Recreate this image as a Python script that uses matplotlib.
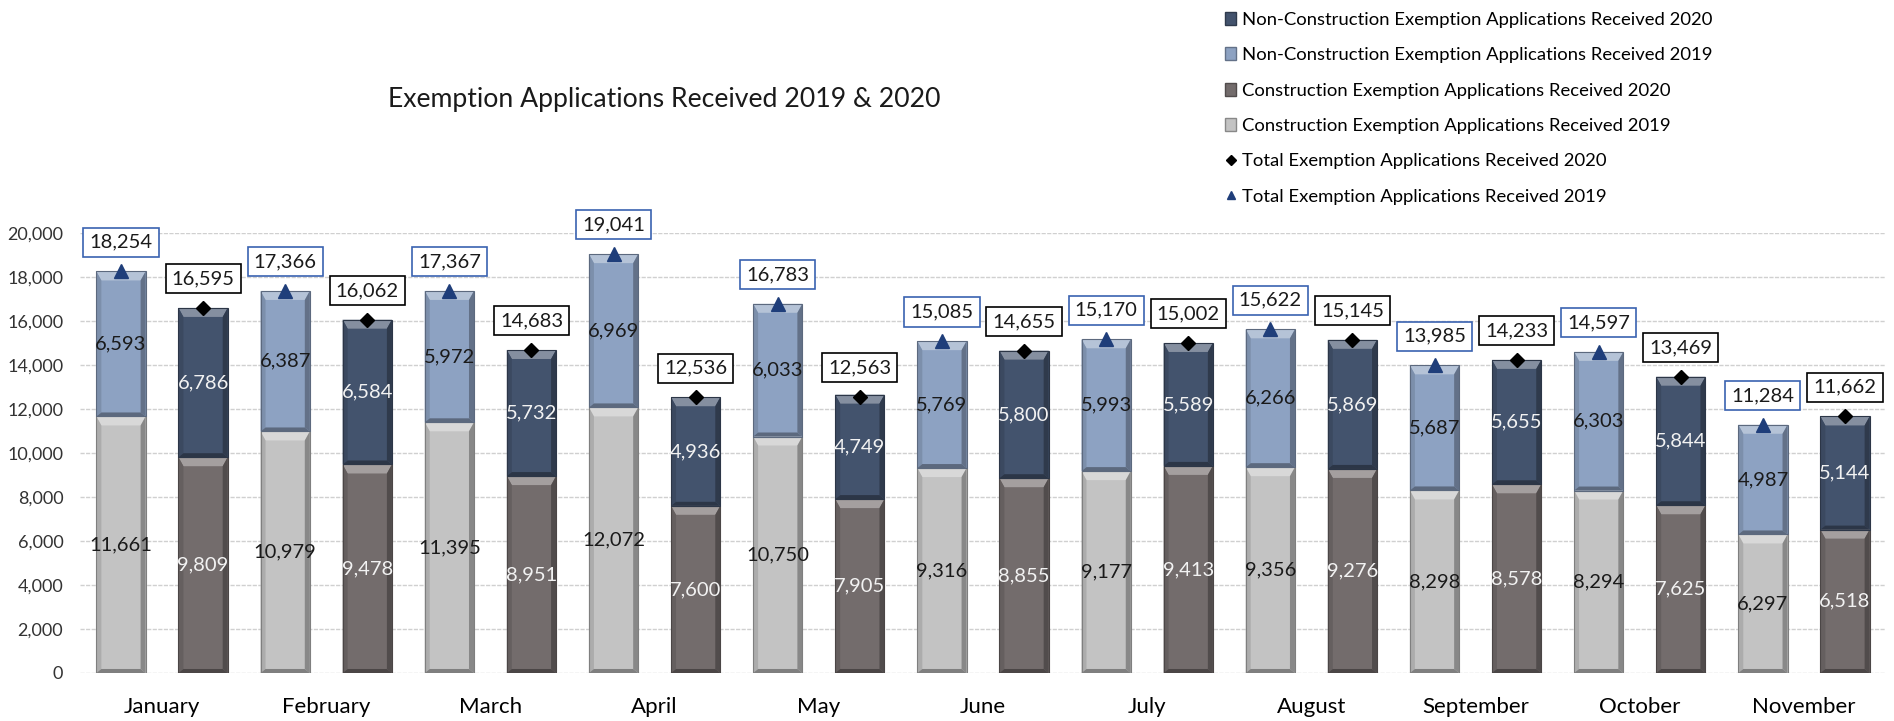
import matplotlib
matplotlib.use("Agg")
import matplotlib.pyplot as plt
from matplotlib.patches import Patch, Polygon
from matplotlib.lines import Line2D
from matplotlib.ticker import FuncFormatter, MultipleLocator
import numpy as np

months = ["January", "February", "March", "April", "May", "June", "July",
          "August", "September", "October", "November"]
constr_2019 = [11661, 10979, 11395, 12072, 10750, 9316, 9177, 9356, 8298, 8294, 6297]
nonconstr_2019 = [6593, 6387, 5972, 6969, 6033, 5769, 5993, 6266, 5687, 6303, 4987]
total_2019 = [18254, 17366, 17367, 19041, 16783, 15085, 15170, 15622, 13985, 14597, 11284]
constr_2020 = [9809, 9478, 8951, 7600, 7905, 8855, 9413, 9276, 8578, 7625, 6518]
nonconstr_2020 = [6786, 6584, 5732, 4936, 4749, 5800, 5589, 5869, 5655, 5844, 5144]
total_2020 = [16595, 16062, 14683, 12536, 12563, 14655, 15002, 15145, 14233, 13469, 11662]

C19 = "#c3c3c3"
C20 = "#736c6c"
N19 = "#8da2c2"
N20 = "#43536d"
FONT = ["Lato", "DejaVu Sans"]
plt.rcParams["font.family"] = FONT

fig = plt.figure(figsize=(18.94, 7.21), dpi=100)
ax = fig.add_axes([0.0422, 0.0666, 0.9536, 0.6102])

x = np.arange(len(months))
w = 0.30
off = 0.25

def shade(c, f):
    rgb = np.array(matplotlib.colors.to_rgb(c))
    if f > 0:
        rgb = rgb + (1 - rgb) * f
    else:
        rgb = rgb * (1 + f)
    return tuple(np.clip(rgb, 0, 1))

bars = []
bars.append((ax.bar(x - off, constr_2019, w, color=C19, zorder=2), C19))
bars.append((ax.bar(x - off, nonconstr_2019, w, bottom=constr_2019, color=N19, zorder=2), N19))
bars.append((ax.bar(x + off, constr_2020, w, color=C20, zorder=2), C20))
bars.append((ax.bar(x + off, nonconstr_2020, w, bottom=constr_2020, color=N20, zorder=2), N20))

ax.set_xlim(-0.5, len(months) - 0.5)
ax.set_ylim(0, 20000)

# bevel decoration derived from bar geometry
px_x = 1.0 / (0.9536 * 1894) * 11.0
px_y = 20000.0 / (0.6102 * 721)
bx = 5 * px_x
by = 9 * px_y
sy = 4 * px_y
for container, col in bars:
    for r in container:
        x0, y0 = r.get_x(), r.get_y()
        x1, y1 = x0 + r.get_width(), y0 + r.get_height()
        ax.add_patch(Polygon([[x0, y1], [x1, y1], [x1 - bx, y1 - by], [x0 + bx, y1 - by]],
                             closed=True, facecolor=shade(col, 0.35), edgecolor="none", zorder=2.1))
        ax.add_patch(Polygon([[x0, y0], [x0, y1], [x0 + bx, y1 - by], [x0 + bx, y0 + sy]],
                             closed=True, facecolor=shade(col, -0.12), edgecolor="none", zorder=2.1))
        ax.add_patch(Polygon([[x1, y0], [x1, y1], [x1 - bx, y1 - by], [x1 - bx, y0 + sy]],
                             closed=True, facecolor=shade(col, -0.30), edgecolor="none", zorder=2.1))
        ax.add_patch(Polygon([[x0, y0], [x1, y0], [x1 - bx, y0 + sy], [x0 + bx, y0 + sy]],
                             closed=True, facecolor=shade(col, -0.35), edgecolor="none", zorder=2.1))
        ax.add_patch(matplotlib.patches.Rectangle((x0, y0), x1 - x0, y1 - y0, fill=False,
                                                  edgecolor=shade(col, -0.35), linewidth=0.8, zorder=2.2))

# segment labels
LS = 14.5
for i in x:
    ax.text(i - off, constr_2019[i] / 2, f"{constr_2019[i]:,}", ha="center", va="center",
            fontsize=LS, color="#1a1a1a", zorder=4)
    ax.text(i - off, constr_2019[i] + nonconstr_2019[i] / 2, f"{nonconstr_2019[i]:,}", ha="center",
            va="center", fontsize=LS, color="#1a1a1a", zorder=4)
    ax.text(i + off, constr_2020[i] / 2, f"{constr_2020[i]:,}", ha="center", va="center",
            fontsize=LS, color="#f2f2f2", zorder=4)
    ax.text(i + off, constr_2020[i] + nonconstr_2020[i] / 2, f"{nonconstr_2020[i]:,}", ha="center",
            va="center", fontsize=LS, color="#f2f2f2", zorder=4)

# total markers
ax.plot(x - off, total_2019, linestyle="none", marker="^", markersize=10, color="#1f3e7a", zorder=5)
ax.plot(x + off, total_2020, linestyle="none", marker="D", markersize=7, color="black", zorder=5)

for i in x:
    ax.annotate(f"{total_2019[i]:,}", (i - off, total_2019[i]), xytext=(0, 21),
                textcoords="offset points", ha="center", va="center", fontsize=LS, color="#1a1a1a",
                bbox=dict(boxstyle="square,pad=0.3", fc="white", ec="#3a62b0", lw=1.2), zorder=6)
    ax.annotate(f"{total_2020[i]:,}", (i + off, total_2020[i]), xytext=(0, 21),
                textcoords="offset points", ha="center", va="center", fontsize=LS, color="#1a1a1a",
                bbox=dict(boxstyle="square,pad=0.3", fc="white", ec="black", lw=1.2), zorder=6)

ax.yaxis.set_major_locator(MultipleLocator(2000))
ax.yaxis.set_major_formatter(FuncFormatter(lambda v, p: f"{int(v):,}"))
ax.grid(axis="y", color="#d0d0d0", linestyle=(0, (3, 1)), linewidth=1.0, zorder=0)
ax.set_axisbelow(True)
for s in ax.spines.values():
    s.set_visible(False)
ax.set_xticks(x)
ax.set_xticklabels(months, fontsize=16)
ax.tick_params(axis="x", length=0, pad=17)
ax.tick_params(axis="y", length=0, labelsize=13, pad=12, labelcolor="#333333")

fig.text(0.3506, 0.862, "Exemption Applications Received 2019 & 2020", ha="center", va="center",
         fontsize=19.2, color="#1a1a1a")

handles = [
    Patch(facecolor=N20, edgecolor=shade(N20, -0.3)),
    Patch(facecolor=N19, edgecolor=shade(N19, -0.3)),
    Patch(facecolor=C20, edgecolor=shade(C20, -0.3)),
    Patch(facecolor=C19, edgecolor=shade(C19, -0.3)),
    Line2D([], [], linestyle="none", marker="D", markersize=5, color="black"),
    Line2D([], [], linestyle="none", marker="^", markersize=6, color="#1f3e7a"),
]
labels = [
    "Non-Construction Exemption Applications Received 2020",
    "Non-Construction Exemption Applications Received 2019",
    "Construction Exemption Applications Received 2020",
    "Construction Exemption Applications Received 2019",
    "Total Exemption Applications Received 2020",
    "Total Exemption Applications Received 2019",
]
fig.legend(handles, labels, loc="upper left", bbox_to_anchor=(0.643, 0.994), frameon=False,
           fontsize=13.3, handlelength=0.6, handleheight=0.7, handletextpad=0.3, labelspacing=1.05,
           borderaxespad=0)

fig.savefig("out.png", dpi=100)
